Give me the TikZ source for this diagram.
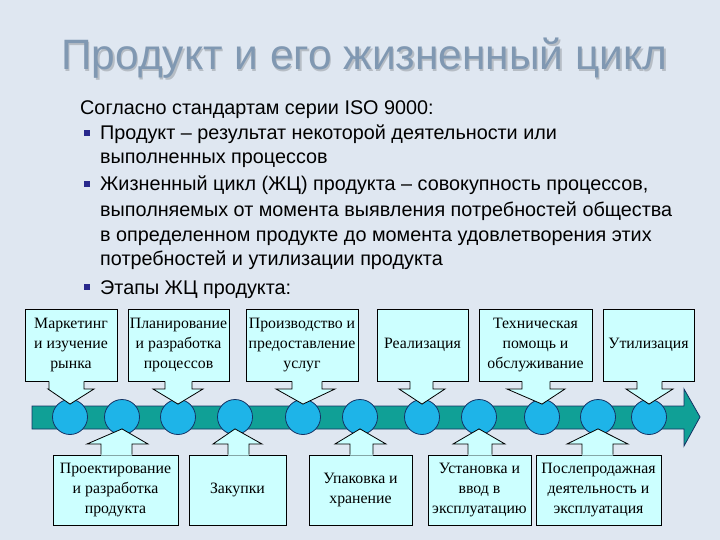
\documentclass[tikz,border=0pt]{standalone}
\usepackage{fontspec}
\setmainfont{Liberation Sans}
\newfontfamily\titlefont{Liberation Sans}
\newfontfamily\boxfont{Liberation Serif}
\usetikzlibrary{calc}
\definecolor{bgc}{RGB}{223,231,241}
\definecolor{titlec}{RGB}{128,152,178}
\definecolor{bulletc}{RGB}{40,40,140}
\definecolor{boxc}{RGB}{204,255,255}
\definecolor{circc}{RGB}{30,180,232}
\definecolor{circline}{RGB}{20,50,100}
\definecolor{barc}{RGB}{16,160,150}
\tikzset{
  ubox/.style={draw=black, fill=boxc, line width=0.8pt, minimum height=72pt, inner sep=0.5pt,
    align=center, font=\boxfont\fontsize{15.8}{20}\selectfont},
  lbox/.style={ubox, minimum height=70pt},
  circ/.style={circle, draw=circline, fill=circc, line width=0.8pt, minimum size=35pt, inner sep=0pt},
  outl/.style={draw=black, line width=0.8pt},
  body/.style={anchor=base west, inner sep=0pt, font=\fontsize{19.8}{23}\selectfont, text=black},
  bul/.style={fill=bulletc},
  ttl/.style={anchor=base west, inner sep=0pt, font=\titlefont\fontsize{42.5}{42.5}\selectfont}
}
\newcommand\calldown[6]{%
  \path (#1.south -| #2,0) coordinate (sl) (#1.south -| #3,0) coordinate (sr)
        ($(#6.north)+(0,5)$) coordinate (tp);
  \fill[boxc] ([yshift=1pt]sl) -- (sl |- 0,389) -- (#4,389) -- (tp) -- (#5,389) -- (sr |- 0,389) -- ([yshift=1pt]sr) -- cycle;
  \draw[outl, line join=miter] (sl) -- (sl |- 0,389) -- (#4,389) -- (tp) -- (#5,389) -- (sr |- 0,389) -- (sr);
}
\newcommand\callup[6]{%
  \path (#1.north -| #2,0) coordinate (sl) (#1.north -| #3,0) coordinate (sr)
        ($(#6.south)+(0,-6)$) coordinate (tp);
  \fill[boxc] ([yshift=-1pt]sl) -- (sl |- 0,444) -- (#4,444) -- (tp) -- (#5,444) -- (sr |- 0,444) -- ([yshift=-1pt]sr) -- cycle;
  \draw[outl, line join=miter] (sl) -- (sl |- 0,444) -- (#4,444) -- (tp) -- (#5,444) -- (sr |- 0,444) -- (sr);
}
\begin{document}
\begin{tikzpicture}[x=1pt,y=-1pt]
\fill[bgc] (0,0) rectangle (720,540);
\useasboundingbox (0,0) rectangle (720,540);
% title
\node[ttl, text=black, opacity=0.18] (titleshadow) at (62.5,71.5) {Продукт и его жизненный цикл};
\node[ttl, text=titlec] (title) at (61,70) {Продукт и его жизненный цикл};
% body text
\node[body] (t0) at (80,115) {Согласно стандартам серии ISO 9000:};
\node[body] (t1) at (100,140) {Продукт – результат некоторой деятельности или};
\node[body] (t2) at (100,164) {выполненных процессов};
\node[body] (t3) at (100,191) {Жизненный цикл (ЖЦ) продукта – совокупность процессов,};
\node[body] (t4) at (100,216) {выполняемых от момента выявления потребностей общества};
\node[body] (t5) at (100,241) {в определенном продукте до момента удовлетворения этих};
\node[body] (t6) at (100,265) {потребностей и утилизации продукта};
\node[body] (t7) at (100,294) {Этапы ЖЦ продукта:};
\fill[bul] (84,130) rectangle (90,136);
\fill[bul] (84,181) rectangle (90,187);
\fill[bul] (84,284) rectangle (90,290);
% bar
\filldraw[fill=barc, draw=circline, line width=0.8pt] (32,406) -- (684,406) -- (684,389) -- (700,417) -- (684,446) -- (684,429) -- (32,429) -- cycle;
% circles
\foreach \n/\x in {1/70,2/122,3/178,4/235,5/303,6/360,7/422,8/479,9/542,10/598,11/649}
  \node[circ] (c\n) at (\x,417) {};
% upper boxes
\node[ubox, minimum width=92pt] (b1) at (71,345) {Маркетинг\\и изучение\\рынка};
\node[ubox, minimum width=101pt] (b2) at (178.5,345) {Планирование\\и разработка\\процессов};
\node[ubox, minimum width=112pt] (b3) at (302,345) {Производство и\\предоставление\\услуг};
\node[ubox, minimum width=91pt] (b4) at (422.5,345) {Реализация};
\node[ubox, minimum width=113pt] (b5) at (535.5,345) {Техническая\\помощь и\\обслуживание};
\node[ubox, minimum width=91pt] (b6) at (648.5,345) {Утилизация};
% lower boxes
\node[lbox, minimum width=125pt] (l1) at (115.5,490) {Проектирование\\и разработка\\продукта};
\node[lbox, minimum width=97pt] (l2) at (237.5,490) {Закупки};
\node[lbox, minimum width=103pt] (l3) at (360.5,490) {Упаковка и\\хранение};
\node[lbox, minimum width=103pt] (l4) at (479.5,490) {Установка и\\ввод в\\эксплуатацию};
\node[lbox, minimum width=125pt] (l5) at (598.5,490) {Послепродажная\\деятельность и\\эксплуатация};
% callouts
\calldown{b1}{49}{84}{48}{94}{c1}
\calldown{b2}{165}{192}{153}{203}{c3}
\calldown{b3}{292}{322}{276}{335}{c5}
\calldown{b4}{410}{433}{399}{445}{c7}
\calldown{b5}{522}{550}{507}{565}{c9}
\calldown{b6}{637}{662}{626}{673}{c11}
\callup{l1}{101}{132}{87}{148}{c2}
\callup{l2}{228}{249}{213}{262}{c4}
\callup{l3}{350}{373}{335}{386}{c6}
\callup{l4}{468}{492}{453}{505}{c8}
\callup{l5}{582}{613}{567}{628}{c10}
\end{tikzpicture}
\end{document}
